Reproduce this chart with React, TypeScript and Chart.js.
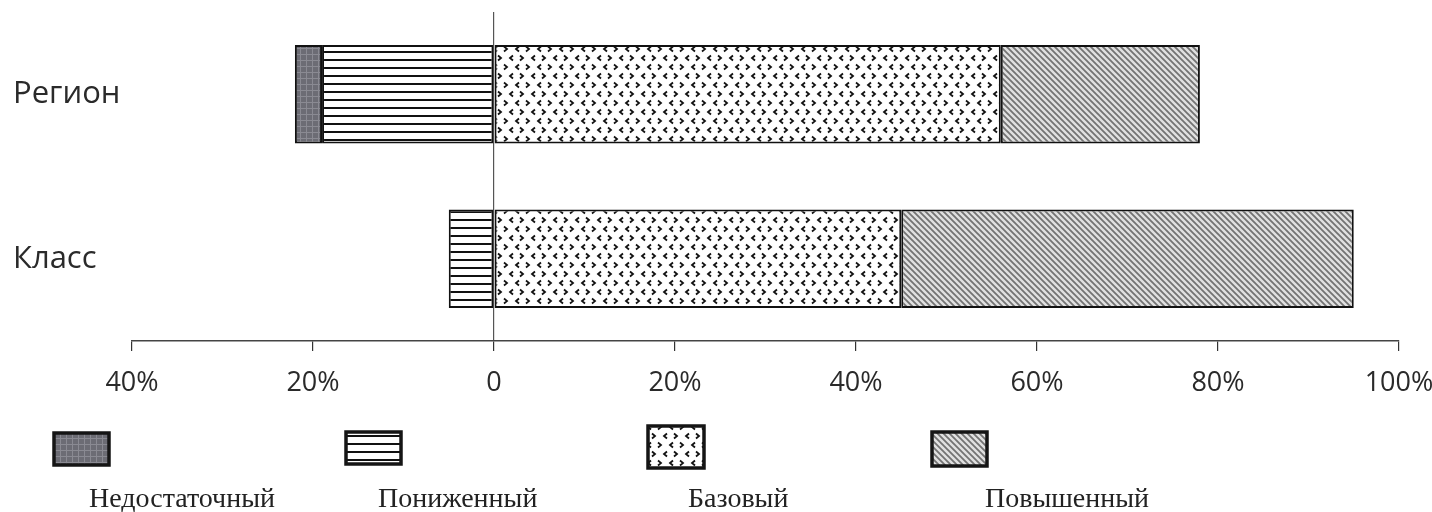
import React, { useEffect, useRef } from "react";
import { Chart, registerables } from "chart.js";

Chart.register(...registerables);

const categories = ["Регион", "Класс"];
const seriesNames = ["Недостаточный", "Пониженный", "Базовый", "Повышенный"];
const nedostatochny = [3, 0];
const ponizhenny = [19, 5];
const bazovy = [56, 45];
const povyshenny = [22, 50];
const axisMin = -40;
const axisMax = 100;
const tickStep = 20;

// legend layout (box left, box top, box width, box height, text left)
const legendBoxX = [54, 346, 648, 932];
const legendBoxY = [433, 432, 426, 432];
const legendBoxW = [55, 55, 56, 55];
const legendBoxH = [32, 32, 42, 34];
const legendTextX = [89, 378, 688, 985];

function makeTile(w: number, h: number, draw: (c: CanvasRenderingContext2D) => void) {
  const cv = document.createElement("canvas");
  cv.width = w;
  cv.height = h;
  const c = cv.getContext("2d")!;
  draw(c);
  return cv;
}

function makePatterns(ctx: CanvasRenderingContext2D) {
  const t1 = makeTile(6, 6, (c) => {
    c.fillStyle = "#6c6c74";
    c.fillRect(0, 0, 6, 6);
    c.fillStyle = "#8a8a92";
    c.fillRect(0, 0, 6, 1);
    c.fillRect(0, 0, 1, 6);
  });
  const t2 = makeTile(8, 8, (c) => {
    c.fillStyle = "#ffffff";
    c.fillRect(0, 0, 8, 8);
    c.fillStyle = "#111111";
    c.fillRect(0, 3, 8, 2);
  });
  const t3 = makeTile(22, 18, (c) => {
    c.fillStyle = "#ffffff";
    c.fillRect(0, 0, 22, 18);
    c.strokeStyle = "#111111";
    c.lineWidth = 1.8;
    const chev = (x: number, y: number, dir: number) => {
      c.beginPath();
      c.moveTo(x + 2 * dir, y - 2.5);
      c.lineTo(x - 1 * dir, y);
      c.lineTo(x + 2 * dir, y + 2.5);
      c.stroke();
    };
    chev(5, 4, 1);
    chev(16, 4, -1);
    chev(11, 13, 1);
    chev(0, 13, -1);
    chev(22, 13, -1);
  });
  const t4 = makeTile(6, 6, (c) => {
    c.fillStyle = "#e0e0e0";
    c.fillRect(0, 0, 6, 6);
    c.strokeStyle = "#737373";
    c.lineWidth = 1.8;
    c.beginPath();
    c.moveTo(-6, 0); c.lineTo(6, 12);
    c.moveTo(-3, -3); c.lineTo(9, 9);
    c.moveTo(0, -6); c.lineTo(12, 6);
    c.stroke();
  });
  return [t1, t2, t3, t4].map((t) => ctx.createPattern(t, "repeat")!);
}

export default function App() {
  const ref = useRef<HTMLCanvasElement | null>(null);

  useEffect(() => {
    document.body.style.margin = "0";
    const canvas = ref.current!;
    const ctx = canvas.getContext("2d")!;
    const pats = makePatterns(ctx);

    const legendPlugin = {
      id: "customLegend",
      afterDraw(chart: any) {
        const c = chart.ctx as CanvasRenderingContext2D;
        c.save();
        seriesNames.forEach((name, i) => {
          const bx = legendBoxX[i];
          const by = legendBoxY[i];
          const bw = legendBoxW[i];
          const bh = legendBoxH[i];
          c.fillStyle = pats[i];
          c.fillRect(bx, by, bw, bh);
          c.strokeStyle = "#151515";
          c.lineWidth = 3.5;
          c.strokeRect(bx, by, bw, bh);
          c.fillStyle = "#222";
          c.font = "28px 'Liberation Serif', serif";
          c.textAlign = "left";
          c.textBaseline = "alphabetic";
          c.fillText(name, legendTextX[i], 507);
        });
        c.restore();
      },
    };

    const chart = new Chart(ctx, {
      type: "bar",
      data: {
        labels: categories,
        datasets: [
          { label: seriesNames[1], data: ponizhenny.map((v) => -v), backgroundColor: pats[1] },
          { label: seriesNames[0], data: nedostatochny.map((v) => -v), backgroundColor: pats[0] },
          { label: seriesNames[2], data: bazovy, backgroundColor: pats[2] },
          { label: seriesNames[3], data: povyshenny, backgroundColor: pats[3] },
        ].map((d) => ({
          ...d,
          borderColor: "#111",
          borderWidth: 2,
          borderSkipped: false,
          barPercentage: 0.6,
          categoryPercentage: 1,
        })) as any,
      },
      options: {
        animation: false,
        responsive: false,
        indexAxis: "y",
        layout: { padding: { top: 12, left: 13, right: 33, bottom: 0 } },
        plugins: { legend: { display: false }, tooltip: { enabled: false } },
        scales: {
          x: {
            stacked: true,
            min: axisMin,
            max: axisMax,
            ticks: {
              stepSize: tickStep,
              color: "#2a2a2a",
              padding: 16,
              font: { family: "'Open Sans', sans-serif", size: 27 },
              callback: (v: any) => (Number(v) === 0 ? "0" : Math.abs(Number(v)) + "%"),
            },
            grid: {
              drawOnChartArea: true,
              drawTicks: true,
              tickLength: 10,
              tickColor: "#333",
              lineWidth: 1.2,
              color: (c: any) => (c.tick && c.tick.value === 0 ? "#555" : "rgba(0,0,0,0)"),
            },
            border: { display: true, color: "#444", width: 1.5 },
            afterFit: (s: any) => {
              s.height = 171;
              s.paddingLeft = 0;
              s.paddingRight = 0;
            },
          },
          y: {
            stacked: true,
            grid: { display: false },
            border: { display: false },
            ticks: {
              color: "#2a2a2a",
              crossAlign: "far",
              font: { family: "'Open Sans', sans-serif", size: 31 },
            },
            afterFit: (s: any) => {
              s.width = 119;
              s.paddingTop = 0;
              s.paddingBottom = 0;
            },
          },
        },
      },
      plugins: [legendPlugin],
    });
    return () => chart.destroy();
  }, []);

  return <canvas ref={ref} width={1432} height={512} style={{ display: "block" }} />;
}
